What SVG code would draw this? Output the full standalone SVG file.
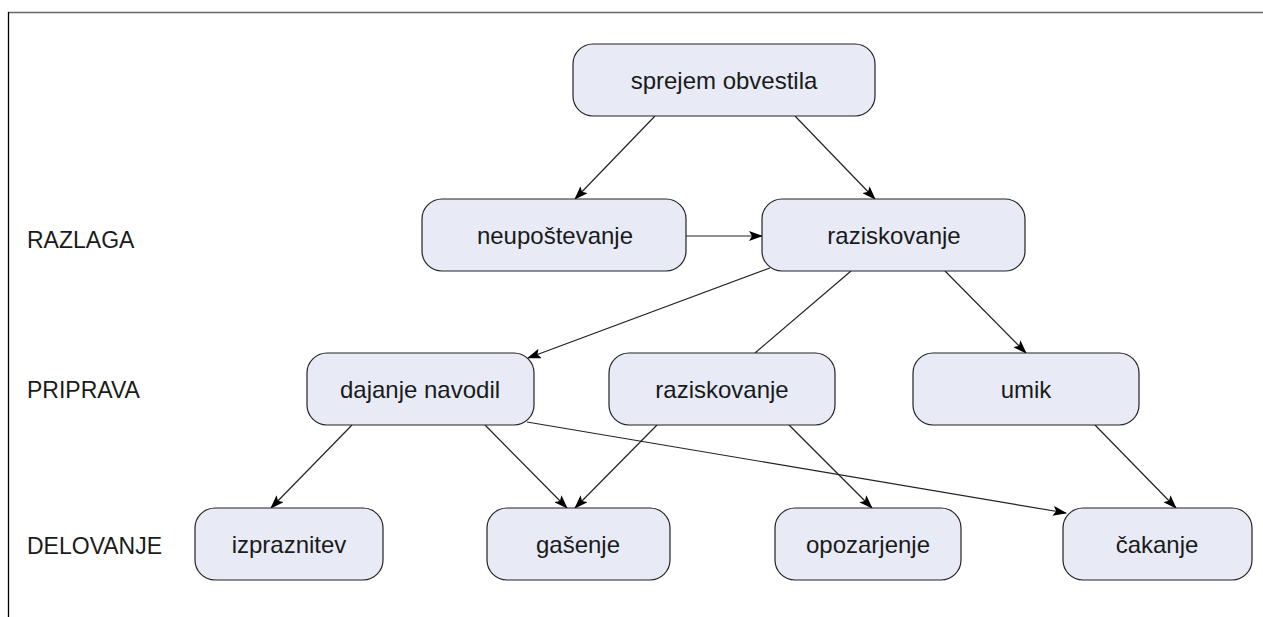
<svg xmlns="http://www.w3.org/2000/svg" width="1263" height="617" viewBox="0 0 1263 617">
<style>
.box{fill:#e8ebf6;stroke:#222;stroke-width:1.2}
.t{font-family:"Liberation Sans",Arial,sans-serif;font-size:24px;fill:#1a1a1a;text-anchor:middle}
.lab{font-family:"Liberation Sans",Arial,sans-serif;font-size:23px;fill:#1a1a1a}
.e{stroke:#222;stroke-width:1.2;fill:none}
.a{marker-end:url(#ah)}
</style>
<defs>
<marker id="ah" viewBox="0 0 14 10" refX="13" refY="5" markerWidth="14" markerHeight="10" markerUnits="userSpaceOnUse" orient="auto">
<path d="M0,0 L14,5 L0,10 L3,5 z" fill="#000"/>
</marker>
</defs>
<rect width="1263" height="617" fill="#fff"/>
<line x1="8" y1="12.5" x2="1263" y2="12.5" stroke="#666" stroke-width="1.3"/>
<line x1="8.5" y1="12" x2="8.5" y2="617" stroke="#000" stroke-width="1.3"/>
<text class="lab" x="27" y="248">RAZLAGA</text>
<text class="lab" x="27" y="398">PRIPRAVA</text>
<text class="lab" x="27" y="554">DELOVANJE</text>
<g id="edges">
<line class="e a" x1="655" y1="116" x2="575" y2="199"/>
<line class="e a" x1="795" y1="116" x2="875" y2="199"/>
<line class="e a" x1="686" y1="236" x2="762" y2="236"/>
<line class="e a" x1="770" y1="268" x2="528" y2="358"/>
<line class="e" x1="851" y1="271" x2="755" y2="353"/>
<line class="e a" x1="945" y1="271" x2="1026" y2="353"/>
<line class="e a" x1="352" y1="425" x2="271" y2="508"/>
<line class="e a" x1="485" y1="425" x2="567" y2="508"/>
<line class="e a" x1="527" y1="422" x2="1066" y2="513"/>
<line class="e a" x1="657" y1="425" x2="575" y2="508"/>
<line class="e a" x1="789" y1="425" x2="872" y2="508"/>
<line class="e a" x1="1095" y1="425" x2="1176" y2="508"/>
</g>
<g id="n1"><rect class="box" x="573" y="44" width="302" height="72" rx="20"/><text class="t" x="724" y="89">sprejem obvestila</text></g>
<g id="n2"><rect class="box" x="422" y="199" width="264" height="72" rx="20"/><text class="t" x="555" y="244">neupoštevanje</text></g>
<g id="n3"><rect class="box" x="762" y="199" width="263" height="72" rx="20"/><text class="t" x="894" y="244">raziskovanje</text></g>
<g id="n4"><rect class="box" x="307" y="353" width="227" height="72" rx="20"/><text class="t" x="420" y="398">dajanje navodil</text></g>
<g id="n5"><rect class="box" x="609" y="353" width="226" height="72" rx="20"/><text class="t" x="722" y="398">raziskovanje</text></g>
<g id="n6"><rect class="box" x="913" y="353" width="226" height="72" rx="20"/><text class="t" x="1026" y="398">umik</text></g>
<g id="n7"><rect class="box" x="195" y="508" width="188" height="72" rx="20"/><text class="t" x="289" y="553">izpraznitev</text></g>
<g id="n8"><rect class="box" x="487" y="508" width="183" height="72" rx="20"/><text class="t" x="578" y="553">gašenje</text></g>
<g id="n9"><rect class="box" x="775" y="508" width="186" height="72" rx="20"/><text class="t" x="868" y="553">opozarjenje</text></g>
<g id="n10"><rect class="box" x="1063" y="508" width="189" height="72" rx="20"/><text class="t" x="1157" y="553">čakanje</text></g>
</svg>
